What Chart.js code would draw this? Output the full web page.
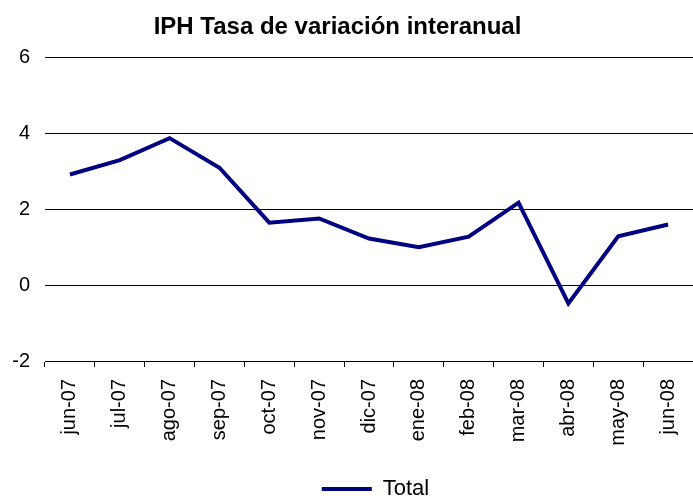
<!DOCTYPE html>
<html>
<head>
<meta charset="utf-8">
<script src="https://cdn.jsdelivr.net/npm/chart.js@4"></script>
<style>
  body { margin: 0; background: #fff; }
  #grafico { display: block; }
</style>
</head>
<body>
<canvas id="grafico" width="693" height="498"></canvas>
<script>
var meses = ["jun-07", "jul-07", "ago-07", "sep-07", "oct-07", "nov-07", "dic-07",
             "ene-08", "feb-08", "mar-08", "abr-08", "may-08", "jun-08"];
var total = [2.92, 3.30, 3.88, 3.10, 1.65, 1.76, 1.23, 1.00, 1.28, 2.18, -0.48, 1.29, 1.60];
var ejeY = [-2, 0, 2, 4, 6];

Chart.defaults.font.family = "'Liberation Sans', Arial, sans-serif";
Chart.defaults.color = "#000";

// titulo y leyenda del original no estan centrados, los corremos un poco
var ajustarCajas = {
    id: 'ajustarCajas',
    afterLayout: function (chart) {
        chart.legend.left += 27;
        chart.legend.right += 27;
        chart.legend.top += 12;
        chart.legend.bottom += 12;
        chart.titleBlock.left -= 11;
        chart.titleBlock.right -= 11;
    }
};

var ctx = document.getElementById("grafico").getContext('2d');
var grafico = new Chart(ctx, {
    type: 'line',
    data: {
        labels: meses,
        datasets: [
            {
                label: "Total",
                borderColor: "#000080",
                backgroundColor: "#000080",
                borderWidth: 4,
                fill: false,
                data: total,
                tension: 0,
                pointRadius: 0
            }
        ]
    },
    plugins: [ajustarCajas],
    options: {
        responsive: false,
        animation: false,
        devicePixelRatio: 1,
        layout: { padding: { left: 0, right: -4, top: 0, bottom: 0 } },
        plugins: {
            title: {
                display: true,
                text: "IPH Tasa de variación interanual",
                font: { size: 24, weight: 'bold' },
                color: "#000",
                padding: { top: 13, bottom: 16 }
            },
            legend: {
                position: 'bottom',
                labels: {
                    usePointStyle: true,
                    pointStyle: 'line',
                    pointStyleWidth: 50,
                    font: { size: 22 },
                    color: "#000",
                    padding: 0
                }
            },
            tooltip: { enabled: false }
        },
        scales: {
            x: {
                offset: true,
                grid: {
                    offset: true,
                    drawOnChartArea: false,
                    color: "#000",
                    tickLength: 6
                },
                border: { display: true, color: "#000", width: 1 },
                ticks: {
                    minRotation: 90,
                    maxRotation: 90,
                    padding: 12,
                    font: { size: 20 },
                    color: "#000"
                },
                afterFit: function (scale) {
                    scale.height = 105;
                    scale.paddingLeft = 0;
                    scale.paddingRight = 0;
                }
            },
            y: {
                min: -2,
                max: 6,
                afterBuildTicks: function (scale) {
                    scale.ticks = ejeY.map(function (v) { return { value: v }; });
                },
                grid: { color: "#000", drawTicks: false, lineWidth: 1 },
                border: { display: false },
                ticks: { padding: 15, font: { size: 20 }, color: "#000" },
                afterFit: function (scale) { scale.width = 45; }
            }
        }
    }
});
</script>
</body>
</html>
